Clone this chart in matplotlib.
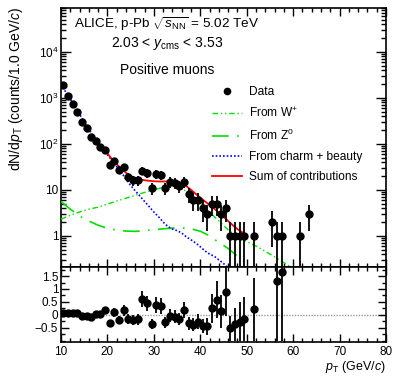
import numpy as np
import matplotlib
matplotlib.use("Agg")
import matplotlib.pyplot as plt
from matplotlib.ticker import FixedLocator, MultipleLocator, NullFormatter, FuncFormatter
from matplotlib.lines import Line2D

plt.rcParams['font.family'] = ['Liberation Sans', 'DejaVu Sans']
plt.rcParams['mathtext.fontset'] = 'custom'
plt.rcParams['mathtext.rm'] = 'Liberation Sans'
plt.rcParams['mathtext.it'] = 'Liberation Sans:italic'
plt.rcParams['mathtext.bf'] = 'Liberation Sans:bold'

# ---- data (counts per 1 GeV/c bin) ----
data_pt = [10.5, 11.5, 12.5, 13.5, 14.5, 15.5, 16.5, 17.5, 18.5, 19.5,
           20.5, 21.5, 22.5, 23.5, 24.5, 25.5, 26.5, 27.5, 28.5, 29.5,
           30.5, 31.5, 32.5, 33.5, 34.5, 35.5, 36.5, 37.5, 38.5, 39.5,
           40.5, 41.5, 42.5, 43.5, 44.5, 45.5, 46.5, 47.5, 48.5, 49.5,
           51.5, 55.5, 56.5, 57.5, 61.5, 63.5]
data_counts = [1860, 1120, 730, 500, 303, 218, 144, 118, 85, 74,
               35, 43, 27, 31, 19, 16, 16, 26, 23, 11,
               22, 21, 11, 15, 14, 12, 15, 8, 6, 6,
               4, 3, 5, 5, 3, 4, 1, 1, 1, 1,
               1, 2, 1, 1, 1, 3]

# ---- ratio panel: (data - fit)/fit ----
ratio_pt = [10.5, 11.5, 12.5, 13.5, 14.5, 15.5, 16.5, 17.5, 18.5, 19.5,
            20.5, 21.5, 22.5, 23.5, 24.5, 25.5, 26.5, 27.5, 28.5, 29.5,
            30.5, 31.5, 32.5, 33.5, 34.5, 35.5, 36.5, 37.5, 38.5, 39.5,
            40.5, 41.5, 42.5, 43.5, 44.5, 45.5, 46.5, 47.5, 48.5, 49.5,
            51.5, 56.5, 57.5]
ratio_val = [0.06, 0.06, 0.07, 0.07, -0.03, -0.03, -0.09, 0.04, 0.04, 0.17,
             -0.33, 0.10, -0.20, 0.17, -0.16, -0.20, -0.17, 0.61, 0.44, -0.36,
             0.38, 0.34, -0.29, -0.04, -0.07, -0.16, 0.20, -0.33, -0.39, -0.26,
             -0.44, -0.44, 0.26, 0.59, 0.13, 0.89, -0.52, -0.36, -0.26, -0.16,
             0.22, 1.30, 1.65]
ratio_counts = [1860, 1120, 730, 500, 303, 218, 144, 118, 85, 74,
                35, 43, 27, 31, 19, 16, 16, 26, 23, 11,
                22, 21, 11, 15, 14, 12, 15, 8, 6, 6,
                4, 3, 5, 5, 3, 4, 1, 1, 1, 1,
                1, 1, 1]

# ---- model curves ----
w_pt = [10, 12, 14, 16, 18, 20, 22, 24, 26, 28, 30, 32, 33.5, 35, 36, 37, 38,
        40, 42, 44, 46, 48, 50, 52, 54, 56, 58, 59.5]
w_val = [2.3, 2.8, 3.3, 3.8, 4.2, 4.9, 5.7, 6.6, 7.6, 8.8, 10.0, 11.3, 12.0, 11.8, 11.0, 9.2, 7.8,
         5.2, 3.3, 2.1, 1.35, 0.95, 0.75, 0.6, 0.46, 0.35, 0.26, 0.21]

z_pt = [10, 12, 14, 16, 18, 20, 22, 24, 26, 28, 30, 32, 34, 36, 38, 40, 42, 44,
        46, 48, 50, 50.6]
z_val = [5.6, 3.8, 2.7, 2.1, 1.7, 1.45, 1.33, 1.27, 1.25, 1.3, 1.36, 1.42, 1.47,
         1.48, 1.42, 1.26, 1.0, 0.72, 0.53, 0.36, 0.24, 0.21]

hf_pt = [10, 11, 12, 13, 14, 15, 16, 17, 18, 19, 20, 21, 22, 23, 24, 25, 26, 27,
         28, 29, 30, 31, 32, 33, 34, 35, 36, 37, 38, 39, 40, 41, 42, 43, 44, 45, 45.8]
hf_val = [2000, 1350, 950, 650, 440, 300, 205, 145, 105, 78, 58, 43, 32, 24, 17,
          12.5, 9.5, 7.3, 5.6, 4.3, 3.3, 2.6, 2.0, 1.6, 1.4, 1.3, 1.15, 0.95, 0.82,
          0.7, 0.58, 0.47, 0.4, 0.36, 0.3, 0.25, 0.21]

sum_pt = [16.5, 17, 18, 19, 20, 21, 22, 23, 24, 25, 26, 27, 28, 29, 30, 31, 32, 33,
          34, 35, 36, 37, 38, 39, 40, 41, 42, 43, 44, 45, 46, 47, 48, 49, 50]
sum_val = [150, 130, 100, 78, 62, 46, 36, 29, 23.5, 20, 18, 16.8, 16.2, 15.7, 15.4,
           15.2, 15.2, 15.3, 15.2, 14.8, 13.5, 12.0, 10.0, 8.2, 6.8, 5.6, 4.7, 3.9,
           3.2, 2.6, 2.1, 1.7, 1.4, 1.2, 1.05]

# ---- figure ----
W, H = 399, 383
fig = plt.figure(figsize=(W / 100, H / 100), dpi=100)
x0, x1 = 61, 386
ax1 = fig.add_axes([x0 / W, 1 - 267 / H, (x1 - x0) / W, (267 - 8) / H])
ax2 = fig.add_axes([x0 / W, 1 - 342 / H, (x1 - x0) / W, (342 - 267) / H])

green = '#00e000'
w_ls = (0, (4, 2, 1, 2, 1, 2))
z_ls = (0, (10, 5, 1, 5))
hf_ls = (0, (1, 1.2))
counts = np.array(data_counts, dtype=float)
ax1.errorbar(data_pt, counts, yerr=np.sqrt(counts), fmt='o', color='black',
             ms=5, elinewidth=1.3, capsize=0, zorder=5)
ax1.plot(w_pt, w_val, color=green, lw=1.0, ls=w_ls, zorder=3)
ax1.plot(z_pt, z_val, color=green, lw=1.2, ls=z_ls, zorder=3)
ax1.plot(hf_pt, hf_val, color='#0000ff', lw=1.2, ls=hf_ls, zorder=3)
ax1.plot(sum_pt, sum_val, color='#ff0000', lw=1.3, zorder=4)

ax1.set_yscale('log')
ax1.set_xlim(10, 80)
ax1.set_ylim(0.21, 9e4)

def yfmt(v, pos):
    if abs(v - 1) < 1e-9:
        return '1'
    if abs(v - 10) < 1e-9:
        return '10'
    e = int(round(np.log10(v)))
    return r'$10^{%d}$' % e
ax1.yaxis.set_major_locator(FixedLocator([1, 10, 100, 1e3, 1e4]))
ax1.yaxis.set_major_formatter(FuncFormatter(yfmt))
minors = [m * 10.0 ** e for e in range(-1, 5) for m in range(2, 10)]
ax1.yaxis.set_minor_locator(FixedLocator(minors))
ax1.yaxis.set_minor_formatter(NullFormatter())
ax1.xaxis.set_major_locator(MultipleLocator(10))
ax1.xaxis.set_minor_locator(MultipleLocator(2))
ax1.tick_params(axis='x', labelbottom=False)

for ax in (ax1, ax2):
    ax.tick_params(which='both', direction='in', top=True, right=True, width=1.0,
                   labelsize=8.5, pad=2)
    ax.tick_params(axis='x', which='major', length=6)
    ax.tick_params(axis='x', which='minor', length=3.2)
    for s in ax.spines.values():
        s.set_linewidth(1.2)
ax1.tick_params(axis='y', which='major', length=7)
ax1.tick_params(axis='y', which='minor', length=3.6)

# ratio panel
rv = np.array(ratio_val)
rerr = (1 + rv) / np.sqrt(np.array(ratio_counts, dtype=float))
ax2.axhline(0, color='#999999', lw=1.0, ls=(0, (1, 1)), zorder=1)
ax2.errorbar(ratio_pt, rv, yerr=rerr, fmt='o', color='black', ms=5,
             elinewidth=1.3, capsize=0, zorder=5)
ax2.set_xlim(10, 80)
ax2.set_ylim(-1.05, 1.85)
ax2.yaxis.set_major_locator(FixedLocator([-0.5, 0, 0.5, 1, 1.5]))
ax2.yaxis.set_major_formatter(FuncFormatter(lambda v, p: {-0.5: '\u22120.5', 0: '0', 0.5: '0.5', 1: '1', 1.5: '1.5'}.get(round(v, 2), '')))
ax2.yaxis.set_minor_locator(MultipleLocator(0.25))
ax2.xaxis.set_major_locator(MultipleLocator(10))
ax2.xaxis.set_minor_locator(MultipleLocator(2))
ax2.tick_params(axis='y', which='major', length=6)
ax2.tick_params(axis='y', which='minor', length=3.2)
ax2.tick_params(axis='x', pad=3)

# labels
fig.text(16 / W, 1 - 7 / H, r'dN/d$p_{\rm T}$ (counts/1.0 GeV/$c$)', rotation=90,
         ha='center', va='top', fontsize=10)
fig.text(386 / W, 1 - 367 / H, r'$p_{\rm T}$ (GeV/$c$)', ha='right', va='center', fontsize=9)

fig.text(74 / W, 1 - 24 / H, r'ALICE, p-Pb $\sqrt{s_{\rm NN}}$ = 5.02 TeV', ha='left',
         va='center', fontsize=9.7)
fig.text(111 / W, 1 - 44 / H, r'2.03 < $y_{\rm cms}$ < 3.53', ha='left', va='center',
         fontsize=10)
fig.text(120 / W, 1 - 70 / H, 'Positive muons', ha='left', va='center', fontsize=10)

handles = [
    Line2D([], [], color='black', marker='o', ls='none', ms=4.5),
    Line2D([], [], color=green, lw=1.0, ls=w_ls),
    Line2D([], [], color=green, lw=1.2, ls=z_ls),
    Line2D([], [], color='#0000ff', lw=1.2, ls=hf_ls),
    Line2D([], [], color='#ff0000', lw=1.3),
]
labels = ['Data', r'From W$^{+}$', r'From Z$^{0}$', 'From charm + beauty',
          'Sum of contributions']
fig.legend(handles, labels, loc='upper left', bbox_to_anchor=(212 / W, 1 - 86 / H),
           frameon=False, fontsize=8.6, handlelength=2.5, handletextpad=0.6,
           labelspacing=0.68, borderpad=0, borderaxespad=0)

fig.savefig('out.png', dpi=100)
